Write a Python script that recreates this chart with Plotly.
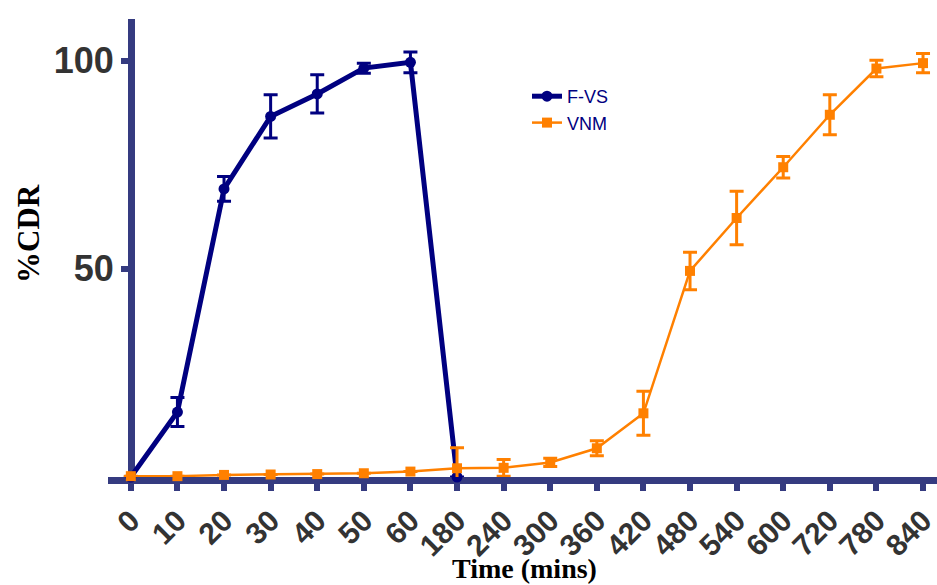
import plotly.graph_objects as go

categories = ["0", "10", "20", "30", "40", "50", "60", "180", "240", "300",
              "360", "420", "480", "540", "600", "720", "780", "840"]

fvs_x = ["0", "10", "20", "30", "40", "50", "60", "180"]
fvs_y = [0, 15.6, 69.2, 86.6, 92.0, 98.2, 99.6, 0]
fvs_err = [0, 3.5, 3.0, 5.2, 4.6, 1.2, 2.5, 0]

vnm_y = [0.2, 0.2, 0.5, 0.6, 0.7, 0.9, 1.3, 2.1, 2.2, 3.5,
         6.9, 15.3, 49.5, 62.2, 74.4, 87.0, 98.1, 99.4]
vnm_err = [0, 0, 0, 0, 0, 0, 0, 4.9, 2.0, 1.0,
           1.8, 5.3, 4.5, 6.4, 2.6, 4.8, 2.0, 2.3]

y_ticks = [50, 100]

AXIS = "#353b80"
NAVY = "#000080"
ORANGE = "#ff8000"

fig = go.Figure()
fig.add_trace(go.Scatter(
    x=fvs_x, y=fvs_y, name="F-VS", mode="lines+markers",
    line=dict(color=NAVY, width=5),
    marker=dict(symbol="circle", size=11, color=NAVY),
    error_y=dict(type="data", array=fvs_err, visible=True, color=NAVY,
                 thickness=3, width=7),
    cliponaxis=False,
))
fig.add_trace(go.Scatter(
    x=categories, y=vnm_y, name="VNM", mode="lines+markers",
    line=dict(color=ORANGE, width=2.5),
    marker=dict(symbol="square", size=10, color=ORANGE),
    error_y=dict(type="data", array=vnm_err, visible=True, color=ORANGE,
                 thickness=3, width=7),
    cliponaxis=False,
))

L, R, T, B = 108, 0, 19, 108
W, H = 937, 585
pw = W - L - R
ph = H - T - B

fig.update_layout(
    width=W, height=H,
    margin=dict(l=L, r=R, t=T, b=B),
    paper_bgcolor="white", plot_bgcolor="white",
    showlegend=True,
    legend=dict(x=(527 - L) / pw, y=(477 - 78) / ph, xanchor="left", yanchor="top",
                font=dict(family="Liberation Sans, Arial", size=18, color=NAVY),
                bgcolor="rgba(0,0,0,0)", itemwidth=30, tracegroupgap=0),
    xaxis=dict(
        type="category", categoryorder="array", categoryarray=categories,
        range=[-0.49, 17.3], showgrid=False, zeroline=False,
        showline=True, linecolor=AXIS, linewidth=7,
        ticks="outside", ticklen=7, tickwidth=6, tickcolor=AXIS,
        tickangle=-45, automargin=False,
        tickfont=dict(family="Liberation Sans, Arial", size=30, color="#333333", weight="bold"),
        layer="below traces",
    ),
    yaxis=dict(
        range=[0, 110], showgrid=False, zeroline=False,
        tickvals=y_ticks, ticktext=[str(v) for v in y_ticks],
        showline=True, linecolor=AXIS, linewidth=7,
        ticks="outside", ticklen=7, tickwidth=6, tickcolor=AXIS,
        tickfont=dict(family="Liberation Sans, Arial", size=36, color="#333333", weight="bold"),
        anchor="free", position=(131 - L) / pw, automargin=False,
        layer="below traces",
    ),
    annotations=[
        dict(text="<b>%CDR</b>", xref="paper", yref="paper",
             x=(28 - L) / pw, y=(477 - 234) / ph, textangle=-90,
             xanchor="center", yanchor="middle",
             showarrow=False, font=dict(family="Liberation Serif, Times New Roman", size=31, color="black")),
        dict(text="<b>Time (mins)</b>", xref="paper", yref="paper",
             x=(524 - L) / pw, y=(477 - 568) / ph,
             xanchor="center", yanchor="middle",
             showarrow=False, font=dict(family="Liberation Serif, Times New Roman", size=28, color="black")),
    ],
)

fig.write_html("out.html", config={"displayModeBar": False},
               post_script="document.body.style.margin='0px';")
